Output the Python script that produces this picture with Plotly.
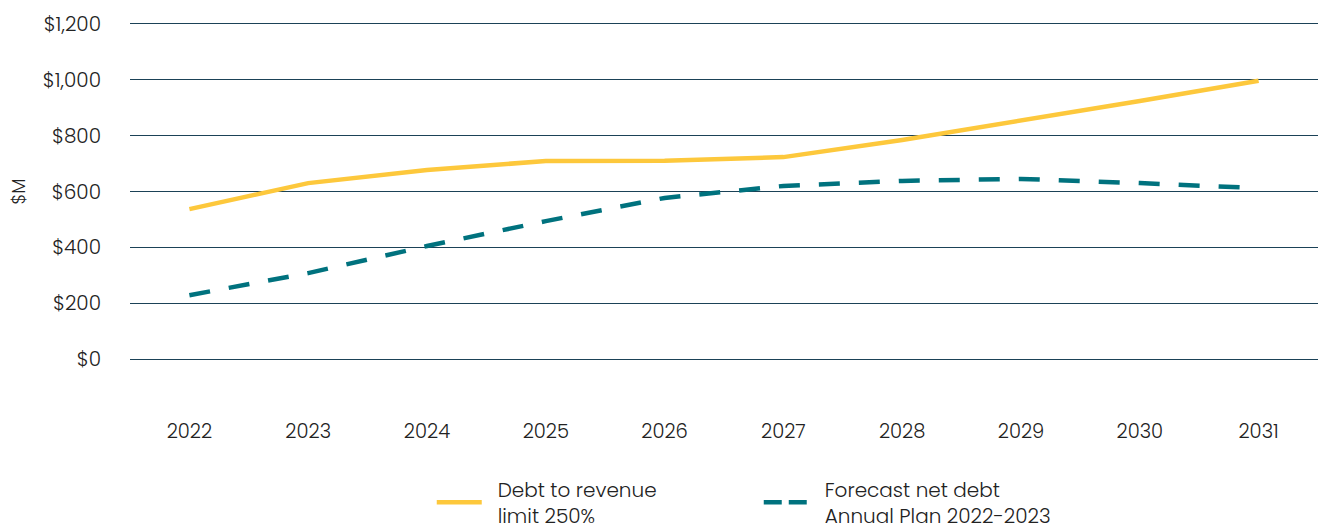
import plotly.graph_objects as go

years = ["2022", "2023", "2024", "2025", "2026", "2027", "2028", "2029", "2030", "2031"]
debt_limit = [537, 630, 677, 709, 710, 723, 784, 852, 924, 996]
net_debt = [229, 308, 405, 494, 577, 620, 638, 645, 630, 612]
y_ticks = [0, 200, 400, 600, 800, 1000, 1200]
y_tick_labels = ["$0", "$200", "$400", "$600", "$800", "$1,000", "$1,200"]

FONT = "Poppins, Inter, 'Open Sans', sans-serif"
GRID = "#1b4257"
YELLOW = "#FDC83C"
TEAL = "#00727E"
PAD = "\u00a0\u00a0"

fig = go.Figure()
fig.add_trace(go.Scatter(
    x=years, y=debt_limit, mode="lines",
    name=PAD + "Debt to revenue<br>" + PAD + "limit 250%",
    line=dict(color=YELLOW, width=4.5),
))
fig.add_trace(go.Scatter(
    x=years, y=net_debt, mode="lines",
    name="Forecast net debt", legendgroup="net", showlegend=False,
    line=dict(color=TEAL, width=4.5, dash="21px,19px"),
))
# legend key for the net-debt series, with a tighter dash so two dashes fit
fig.add_trace(go.Scatter(
    x=[None], y=[None], mode="lines", legendgroup="net",
    name=PAD + "Forecast net debt<br>" + PAD + "Annual Plan 2022-2023",
    line=dict(color=TEAL, width=4.5, dash="18px,7px"),
))

fig.update_layout(
    width=1321, height=532,
    margin=dict(l=130, r=3, t=21, b=170, autoexpand=False),
    paper_bgcolor="white", plot_bgcolor="white",
    font=dict(family=FONT, size=20, color="#222222", weight=300),
    showlegend=True,
    legend=dict(
        orientation="h", x=0.254, xanchor="left",
        yref="container", y=0.117, yanchor="top",
        font=dict(family=FONT, size=20, color="#222222", weight=300),
        itemwidth=45, tracegroupgap=0, entrywidth=267,
    ),
    xaxis=dict(
        type="category", range=[-0.5, 9.5],
        showgrid=False, showline=False, zeroline=False,
        ticks="", ticklabelstandoff=55,
        tickfont=dict(size=19.5, weight=300),
    ),
    yaxis=dict(
        range=[-10, 1210], tickvals=y_ticks, ticktext=y_tick_labels,
        showgrid=True, gridcolor=GRID, gridwidth=1,
        zeroline=False, showline=False, ticks="", ticklabelstandoff=28,
        title=dict(text="$M", standoff=12, font=dict(size=18, weight=300)),
        tickfont=dict(size=20, weight=300),
    ),
)

fig.write_html("out.html")
